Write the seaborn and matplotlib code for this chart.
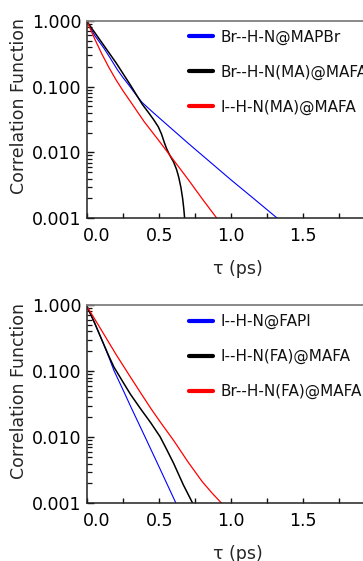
import numpy as np
import pandas as pd
import matplotlib
matplotlib.use("Agg")
import matplotlib.pyplot as plt
from matplotlib.ticker import LogLocator, FixedLocator, NullFormatter
import seaborn as sns

# ---- data ----
top_labels = ["Br--H-N@MAPBr", "Br--H-N(MA)@MAFA", "I--H-N(MA)@MAFA"]
top_tau_blue = [0, 0.05, 0.116, 0.16, 0.209, 0.25, 0.3, 0.34, 0.38, 0.45, 0.544, 0.7, 0.85, 1.0, 1.15, 1.32]
top_val_blue = [0.955, 0.603, 0.380, 0.269, 0.180, 0.135, 0.0977, 0.0741, 0.0575, 0.0417, 0.0275,
                0.0138, 0.00724, 0.0038, 0.00204, 0.001]
top_tau_black = [0, 0.1, 0.2, 0.3, 0.382, 0.42, 0.46, 0.493, 0.515, 0.535, 0.55, 0.57, 0.6,
                 0.62, 0.635, 0.65, 0.662, 0.67, 0.676]
top_val_black = [0.955, 0.468, 0.229, 0.105, 0.0537, 0.0417, 0.0316, 0.0245, 0.0191, 0.0141, 0.0115,
                 0.0093, 0.0071, 0.0055, 0.0042, 0.00295, 0.002, 0.0014, 0.001]
top_tau_red = [0, 0.05, 0.1, 0.15, 0.2, 0.25, 0.3, 0.394, 0.5, 0.6, 0.7, 0.8, 0.9]
top_val_red = [0.955, 0.537, 0.316, 0.195, 0.126, 0.085, 0.059, 0.0295, 0.0148, 0.0076, 0.0039, 0.00195, 0.001]

bot_labels = ["I--H-N@FAPI", "I--H-N(FA)@MAFA", "Br--H-N(FA)@MAFA"]
bot_tau_blue = [0, 0.05, 0.1, 0.15, 0.185, 0.25, 0.3, 0.4, 0.5, 0.616]
bot_val_blue = [0.93, 0.54, 0.30, 0.162, 0.102, 0.051, 0.0295, 0.0102, 0.0035, 0.001]
bot_tau_black = [0, 0.05, 0.1, 0.15, 0.185, 0.25, 0.3, 0.37, 0.44, 0.505, 0.55, 0.6, 0.667, 0.732]
bot_val_black = [0.93, 0.54, 0.30, 0.168, 0.115, 0.067, 0.0445, 0.0269, 0.0166, 0.0102, 0.0066, 0.004, 0.0019, 0.001]
bot_tau_red = [0, 0.05, 0.1, 0.2, 0.3, 0.37, 0.44, 0.5, 0.6, 0.7, 0.8, 0.87, 0.933]
bot_val_red = [0.93, 0.62, 0.41, 0.178, 0.081, 0.047, 0.0275, 0.0178, 0.0089, 0.0042, 0.0021, 0.0014, 0.001]

colors = ["#0000ff", "#000000", "#ff0000"]
xticks = [0.0, 0.5, 1.0, 1.5]
xminor = [0.25, 0.75, 1.25, 1.75]
yticks = [0.001, 0.01, 0.1, 1.0]
ytick_labels = ["0.001", "0.010", "0.100", "1.000"]

sns.set_style("ticks")
plt.rcParams['font.family'] = ['DejaVu Sans']
plt.rcParams['xtick.direction'] = 'in'
plt.rcParams['ytick.direction'] = 'in'

W, H = 363, 561
fig = plt.figure(figsize=(W / 100, H / 100), dpi=100)

AX_W = 2.1 * 144

def px_axes(left, top, right, bottom):
    return fig.add_axes([left / W, 1 - bottom / H, (right - left) / W, (bottom - top) / H])

ax1 = px_axes(87.3, 20.7, 87.3 + AX_W, 218.3)
ax2 = px_axes(87.3, 305.0, 87.3 + AX_W, 503.3)

def draw(ax, taus, vals, labels, lws, ax_h):
    for t, v, lab, c, lw in zip(taus, vals, labels, colors, lws):
        df = pd.DataFrame({"tau": t, "C": v})
        sns.lineplot(data=df, x="tau", y="C", ax=ax, color=c, lw=lw, label=lab, sort=False)
    ax.set_yscale("log")
    ax.set_xlim(0, 2.1)
    ax.set_ylim(0.001, 1.0)
    ax.xaxis.set_major_locator(FixedLocator(xticks))
    ax.set_xticklabels(["" if x == 0 else f"{x:.1f}" for x in xticks])
    ax.xaxis.set_minor_locator(FixedLocator(xminor))
    ax.yaxis.set_major_locator(FixedLocator(yticks))
    ax.set_yticklabels(ytick_labels)
    ax.yaxis.set_minor_locator(LogLocator(base=10, subs=np.arange(2, 10), numticks=20))
    ax.yaxis.set_minor_formatter(NullFormatter())
    ax.tick_params(axis="both", which="both", direction="in", labelsize=12.5,
                   color="#111111", labelcolor="black", bottom=True, left=True)
    ax.tick_params(axis="y", which="major", length=5.2, width=1.0, pad=4)
    ax.tick_params(axis="y", which="minor", length=3.6, width=0.9)
    ax.tick_params(axis="x", which="both", length=3.6, width=1.0, pad=6)
    ax.annotate("0.0", xy=(0, 0), xycoords=("data", "axes fraction"),
                xytext=(6.5, -6), textcoords="offset points",
                ha="center", va="top", fontsize=12.5, color="black", annotation_clip=False)
    ax.set_xlabel("τ (ps)", fontsize=12.5)
    ax.xaxis.set_label_coords(0.497, -42.0 / ax_h)
    ax.set_ylabel("Correlation Function", fontsize=12.5)
    ax.yaxis.set_label_coords(-59.0 / AX_W, 0.567)
    for s in ["left", "bottom"]:
        ax.spines[s].set_color("#222222")
        ax.spines[s].set_linewidth(1.1)
    ax.spines["top"].set_visible(True)
    ax.spines["top"].set_color("#808080")
    ax.spines["top"].set_linewidth(1.3)
    ax.spines["right"].set_visible(False)
    leg = ax.legend(loc="upper left", bbox_to_anchor=(0.336, 0.955), frameon=False,
                    fontsize=11, handlelength=1.6, handletextpad=0.45, labelspacing=1.3,
                    borderpad=0, borderaxespad=0)
    for h in leg.legend_handles:
        h.set_linewidth(3)
    for t in leg.get_texts():
        t.set_color("#111111")

draw(ax1, [top_tau_blue, top_tau_black, top_tau_red],
     [top_val_blue, top_val_black, top_val_red], top_labels, [0.8, 1.1, 0.9], 197.6)
draw(ax2, [bot_tau_blue, bot_tau_black, bot_tau_red],
     [bot_val_blue, bot_val_black, bot_val_red], bot_labels, [0.8, 1.1, 0.9], 198.3)

fig.savefig("out.png", dpi=100)
